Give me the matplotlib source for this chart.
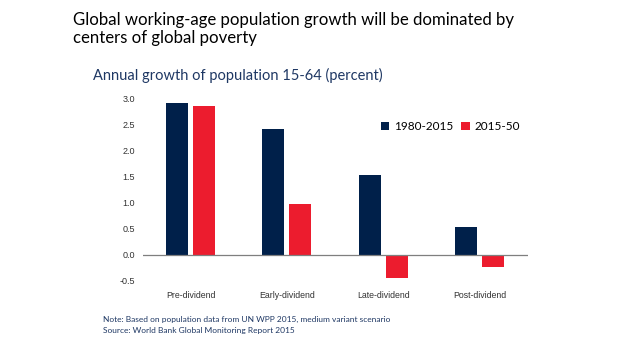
import matplotlib
matplotlib.use("Agg")
import matplotlib.pyplot as plt
import numpy as np

categories = ["Pre-dividend", "Early-dividend", "Late-dividend", "Post-dividend"]
series_names = ["1980-2015", "2015-50"]
vals_1980_2015 = [2.91, 2.40, 1.53, 0.54]
vals_2015_50 = [2.85, 0.98, -0.45, -0.23]
yticks = [-0.5, 0.0, 0.5, 1.0, 1.5, 2.0, 2.5, 3.0]

navy = "#00204A"
red = "#EC1C2E"
textnavy = "#1F3864"

fig = plt.figure(figsize=(6.4, 3.6), dpi=100)
ax = fig.add_axes([143/640, (360-281)/360, (528-143)/640, (281-98)/360])

x = np.arange(len(categories))
w = 0.23
ax.bar(x - 0.145, vals_1980_2015, w, color=navy, label=series_names[0])
ax.bar(x + 0.135, vals_2015_50, w, color=red, label=series_names[1])

ax.set_xlim(-0.5, 3.5)
ax.set_ylim(-0.5, 3.0)
ax.set_yticks(yticks)
ax.set_yticklabels([f"{v:.1f}" for v in yticks], fontsize=6.5, family="Liberation Sans", color="#333333")
ax.set_xticks(x)
ax.set_xticklabels(categories, fontsize=6.3, family="Liberation Sans", color="#333333")
ax.tick_params(length=0, pad=6)
ax.tick_params(axis="x", pad=7)
for s in ["top", "right", "left", "bottom"]:
    ax.spines[s].set_visible(False)
ax.axhline(0, color="#7f7f7f", lw=0.9, zorder=3)

leg = ax.legend(loc="upper left", bbox_to_anchor=(0.59, 0.93), ncol=2, frameon=False,
                handlelength=0.7, handleheight=0.7, handletextpad=0.4,
                columnspacing=0.7, prop={"family": "Lato", "size": 8.5})

fig.text(73/640, 1 - 29/360, "Global working-age population growth will be dominated by\ncenters of global poverty",
         fontsize=12.1, family="Lato", color="black", va="center", ha="left", linespacing=1.15)
fig.text(93/640, 1 - 75/360, "Annual growth of population 15-64 (percent)", fontsize=10.5,
         family="Lato", color=textnavy, va="center", ha="left")
fig.text(103/640, 1 - 319/360, "Note: Based on population data from UN WPP 2015, medium variant scenario",
         fontsize=6, family="Lato", color=textnavy, va="center", ha="left")
fig.text(103/640, 1 - 330/360, "Source: World Bank Global Monitoring Report 2015",
         fontsize=6, family="Lato", color=textnavy, va="center", ha="left")

fig.savefig("out.png", dpi=100)
